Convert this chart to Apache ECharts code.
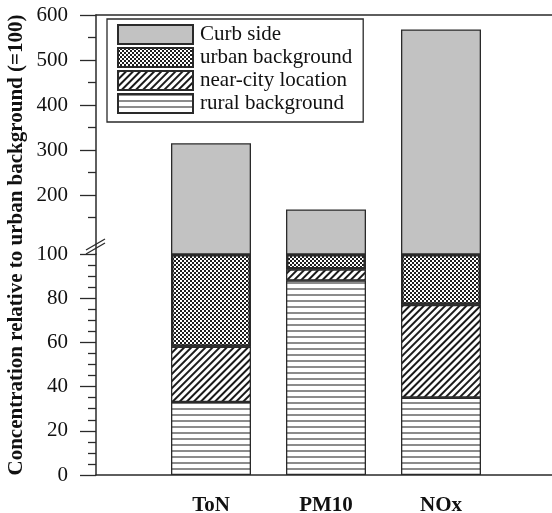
<!DOCTYPE html>
<html>
<head>
<meta charset="utf-8">
<script src="https://cdn.jsdelivr.net/npm/echarts@6/dist/echarts.min.js"></script>
<style>
  html, body { margin: 0; padding: 0; background: #fff; }
  #chart { width: 552px; height: 513px; }
</style>
</head>
<body>
<div id="chart"></div>
<script>
// Source contributions per pollutant, relative to urban background (=100)
const categories = ['ToN', 'PM10', 'NOx'];
const ruralBackground = [33, 88, 35];
const nearCityLocation = [25, 5, 42];
const urbanBackground = [42, 7, 23];
const curbSide = [315, 168, 568];

// Axis ticks for the two segments of the broken value axis
const lowerTickValues = [0, 20, 40, 60, 80, 100];
const upperTickValues = [200, 300, 400, 500, 600];
const upperMinorTickValues = [150, 250, 350, 450, 550];

const FONT = 'Liberation Serif';
const INK = '#2a2a2a';
const TEXT = '#111';

// Layout of the two stacked grids (lower: 0-100, upper: compressed 100-600)
const LEFT = 96;
const RIGHT = -4;
const UPPER_TOP = 15;
const SEAM = 254;
const LOWER_BOTTOM = 475;
const upperHeight = SEAM - UPPER_TOP;
const upperMax = 600;
const upperPxPerUnit = 180 / 400;
const upperMin = upperMax - upperHeight / upperPxPerUnit;

// blank slot on each side keeps the bars away from the frame edges
const axisCategories = ['', ...categories, ''];
const pad = arr => ['-', ...arr, '-'];

const axisLineStyle = { color: INK, width: 1.5 };
const tickStyle = { color: INK, width: 1.3 };

const decals = {
  rural: {
    symbol: 'rect', symbolSize: 1, symbolKeepAspect: false,
    dashArrayX: [1, 0], dashArrayY: [2, 4],
    color: '#8c8c8c', backgroundColor: '#ffffff'
  },
  nearCity: {
    symbol: 'rect', symbolSize: 1, symbolKeepAspect: false,
    dashArrayX: [1, 0], dashArrayY: [1.1, 3],
    rotation: -Math.PI / 4,
    color: '#1a1a1a', backgroundColor: '#ffffff'
  },
  urban: {
    symbol: 'rect', symbolSize: 1, symbolKeepAspect: false,
    dashArrayX: [[2, 2], [0, 2, 2, 0]], dashArrayY: [2, 0],
    color: '#1e1e1e', backgroundColor: '#ffffff'
  }
};

const chart = echarts.init(document.getElementById('chart'), null, { renderer: 'canvas' });

const valueLabel = { fontFamily: FONT, fontSize: 21, color: TEXT, margin: 28 };

chart.setOption({
  animation: false,
  backgroundColor: '#fff',
  grid: [
    { left: LEFT, right: RIGHT, top: SEAM, bottom: 513 - LOWER_BOTTOM, outerBoundsMode: 'none' },
    { left: LEFT, right: RIGHT, top: UPPER_TOP, height: upperHeight, outerBoundsMode: 'none' }
  ],
  xAxis: [
    {
      gridIndex: 0, type: 'category', data: axisCategories, boundaryGap: false,
      axisLine: { show: true, lineStyle: axisLineStyle },
      axisTick: { show: false },
      axisLabel: { interval: 0, fontFamily: FONT, fontWeight: 'bold', fontSize: 21, color: TEXT, margin: 20 }
    },
    {
      gridIndex: 1, type: 'category', data: axisCategories, boundaryGap: false, position: 'top',
      axisLine: { show: true, lineStyle: axisLineStyle },
      axisTick: { show: false },
      axisLabel: { show: false }
    }
  ],
  yAxis: [
    {
      gridIndex: 0, type: 'value', position: 'left', min: 0, max: 100, interval: 20,
      axisLine: { show: true, lineStyle: axisLineStyle },
      axisTick: { show: true, inside: false, length: 16, lineStyle: tickStyle },
      minorTick: { show: true, splitNumber: 4, length: 8, lineStyle: tickStyle },
      splitLine: { show: false },
      axisLabel: Object.assign({ customValues: lowerTickValues }, valueLabel)
    },
    {
      gridIndex: 1, type: 'value', position: 'left', min: upperMin, max: upperMax,
      axisLine: { show: true, lineStyle: axisLineStyle },
      axisTick: { show: true, inside: false, length: 16, lineStyle: tickStyle, customValues: upperTickValues },
      splitLine: { show: false },
      axisLabel: Object.assign({ customValues: upperTickValues }, valueLabel)
    },
    {
      gridIndex: 1, type: 'value', position: 'left', min: upperMin, max: upperMax,
      axisLine: { show: false },
      axisTick: { show: true, inside: false, length: 8, lineStyle: tickStyle, customValues: upperMinorTickValues },
      splitLine: { show: false },
      axisLabel: { show: false }
    }
  ],
  legend: {
    data: ['Curb side', 'urban background', 'near-city location', 'rural background'],
    orient: 'vertical', left: 107, top: 19,
    icon: 'rect', itemWidth: 75, itemHeight: 19, itemGap: 2,
    padding: [5, 11, 8, 10],
    borderColor: INK, borderWidth: 1.3,
    textStyle: { fontFamily: FONT, fontSize: 21, color: TEXT, lineHeight: 19, padding: [0, 0, 0, 2] }
  },
  series: [
    {
      name: 'rural background', type: 'bar', stack: 'lower', xAxisIndex: 0, yAxisIndex: 0,
      barWidth: 80, data: pad(ruralBackground),
      itemStyle: { color: '#ffffff', decal: decals.rural, borderColor: INK, borderWidth: 1.3 }
    },
    {
      name: 'near-city location', type: 'bar', stack: 'lower', xAxisIndex: 0, yAxisIndex: 0,
      barWidth: 80, data: pad(nearCityLocation),
      itemStyle: { color: '#ffffff', decal: decals.nearCity, borderColor: INK, borderWidth: 1.3 }
    },
    {
      name: 'urban background', type: 'bar', stack: 'lower', xAxisIndex: 0, yAxisIndex: 0,
      barWidth: 80, data: pad(urbanBackground),
      itemStyle: { color: '#ffffff', decal: decals.urban, borderColor: INK, borderWidth: 2.5 }
    },
    {
      name: 'Curb side', type: 'bar', xAxisIndex: 1, yAxisIndex: 1,
      barWidth: 80, clip: true, data: pad(curbSide),
      itemStyle: { color: '#c2c2c2', borderColor: INK, borderWidth: 1.3 }
    }
  ],
  graphic: [
    {
      type: 'text', x: 17, y: 245, rotation: Math.PI / 2,
      style: {
        text: 'Concentration relative to urban background (=100)',
        font: 'bold 21px "Liberation Serif"', fill: TEXT,
        align: 'center', verticalAlign: 'middle'
      }
    },
    { type: 'line', shape: { x1: 86, y1: 250, x2: 105, y2: 239 }, style: { stroke: INK, lineWidth: 1.3 } },
    { type: 'line', shape: { x1: 86, y1: 254, x2: 105, y2: 243 }, style: { stroke: INK, lineWidth: 1.3 } }
  ]
});
</script>
</body>
</html>
